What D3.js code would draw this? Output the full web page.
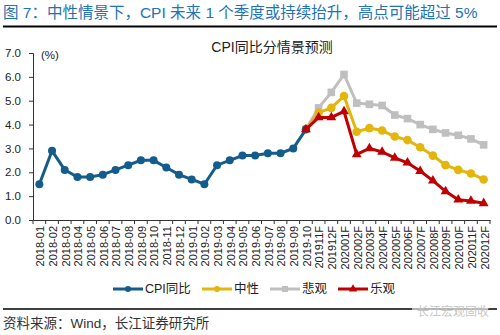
<!DOCTYPE html>
<html><head><meta charset="utf-8">
<script src="https://cdn.jsdelivr.net/npm/d3@7"></script>
<style>
html,body{margin:0;padding:0;background:#fff;}
svg{display:block;font-family:"Liberation Sans","Noto Sans CJK SC",Arial,sans-serif;}
</style></head>
<body>
<script>
const categories = ["2018-01","2018-02","2018-03","2018-04","2018-05","2018-06","2018-07","2018-08","2018-09","2018-10","2018-11","2018-12",
"2019-01","2019-02","2019-03","2019-04","2019-05","2019-06","2019-07","2019-08","2019-09","2019-10",
"201911F","201912F","202001F","202002F","202003F","202004F","202005F","202006F","202007F","202008F","202009F","202010F","202011F","202012F"];
const cpiActual = [1.5,2.9,2.1,1.8,1.8,1.9,2.1,2.3,2.5,2.5,2.2,1.9,1.7,1.5,2.3,2.5,2.7,2.7,2.8,2.8,3.0,3.8];
// forecasts start at 2019-10 (index 21)
const neutral     = [3.8,4.5,4.7,5.2,3.7,3.85,3.75,3.5,3.35,3.05,2.7,2.3,2.1,1.95,1.7];
const pessimistic = [3.8,4.7,5.35,6.1,4.9,4.85,4.8,4.4,4.25,4.0,3.8,3.65,3.55,3.4,3.15];
const optimistic  = [3.8,4.3,4.3,4.55,2.75,3.0,2.85,2.6,2.4,2.05,1.65,1.2,0.85,0.8,0.7];
const forecastStart = 21;
const yTicks = [0,1,2,3,4,5,6,7];
const seriesNames = ["CPI同比","中性","悲观","乐观"];

const W=500,H=335;
const svg=d3.select("body").append("svg").attr("width",W).attr("height",H);

// header
svg.append("text").attr("x",3).attr("y",18).attr("fill","#2272b4").attr("font-size",15.5)
  .text("图 7：中性情景下，CPI 未来 1 个季度或持续抬升，高点可能超过 5%");
svg.append("line").attr("x1",3).attr("x2",497).attr("y1",26.5).attr("y2",26.5).attr("stroke","#000").attr("stroke-width",2);

svg.append("text").attr("x",272).attr("y",52).attr("text-anchor","middle").attr("font-size",14).attr("fill","#222")
  .text("CPI同比分情景预测");

const x=d3.scaleBand().domain(categories).range([33,490]).padding(0);
const y=d3.scaleLinear().domain([0,7]).range([220,53]);
const cx=d=>x(d)+x.bandwidth()/2;

// y axis
const ya=svg.append("g").attr("transform","translate(33,0)")
  .call(d3.axisLeft(y).tickValues(yTicks).tickFormat(d3.format(".1f")).tickSize(4).tickPadding(8));
ya.selectAll("text").attr("font-size",11.5).attr("fill","#222").attr("font-family","Liberation Sans, Arial, sans-serif");
ya.selectAll("line,path").attr("stroke","#333");

svg.append("text").attr("x",41).attr("y",59).attr("font-size",11.5).attr("fill","#222").text("(%)");

// x axis
const xa=svg.append("g").attr("transform","translate(0,220)")
  .call(d3.axisBottom(x).tickSize(0).tickPadding(0));
xa.selectAll("path").attr("stroke","#333");
xa.selectAll("text").attr("font-size",11).attr("fill","#222")
  .attr("transform",d=>`translate(1,6) rotate(-90)`).attr("text-anchor","end").attr("dy","0.35em").attr("x",0).attr("y",0);
// boundary ticks
const bounds=categories.map(c=>x(c)).concat([x(categories[categories.length-1])+x.bandwidth()]);
svg.append("g").selectAll("line").data(bounds).join("line")
  .attr("x1",d=>d).attr("x2",d=>d).attr("y1",220).attr("y2",224).attr("stroke","#333");

const colors={cpi:"#135c8c",neu:"#e2b60c",pes:"#bfbfbf",opt:"#c00000"};

function fc(arr){return arr.map((v,i)=>({c:categories[forecastStart+i],v}));}
const line=d3.line().x(d=>cx(d.c)).y(d=>y(d.v));

const cpiData=cpiActual.map((v,i)=>({c:categories[i],v}));
const pesData=fc(pessimistic), neuData=fc(neutral), optData=fc(optimistic);

const g=svg.append("g");
// pessimistic (gray squares)
g.append("path").datum(pesData).attr("d",line).attr("fill","none").attr("stroke",colors.pes).attr("stroke-width",3);
g.selectAll(".ps").data(pesData).join("rect").attr("x",d=>cx(d.c)-3.8).attr("y",d=>y(d.v)-3.8).attr("width",7.6).attr("height",7.6).attr("fill",colors.pes);
// neutral (yellow circles)
g.append("path").datum(neuData).attr("d",line).attr("fill","none").attr("stroke",colors.neu).attr("stroke-width",3);
g.selectAll(".ns").data(neuData).join("circle").attr("cx",d=>cx(d.c)).attr("cy",d=>y(d.v)).attr("r",4.3).attr("fill",colors.neu);
// CPI actual
g.append("path").datum(cpiData).attr("d",line).attr("fill","none").attr("stroke",colors.cpi).attr("stroke-width",3);
g.selectAll(".cs").data(cpiData).join("circle").attr("cx",d=>cx(d.c)).attr("cy",d=>y(d.v)).attr("r",4).attr("fill",colors.cpi);
// optimistic (red triangles)
g.append("path").datum(optData).attr("d",line).attr("fill","none").attr("stroke",colors.opt).attr("stroke-width",3);
const tri=d3.symbol().type(d3.symbolTriangle).size(42);
g.selectAll(".os").data(optData).join("path").attr("d",tri).attr("transform",d=>`translate(${cx(d.c)},${y(d.v)})`).attr("fill",colors.opt);

// legend
const legItems=[
  {name:seriesNames[0],color:colors.cpi,shape:"circle",x:113},
  {name:seriesNames[1],color:colors.neu,shape:"circle",x:202},
  {name:seriesNames[2],color:colors.pes,shape:"square",x:270},
  {name:seriesNames[3],color:colors.opt,shape:"triangle",x:338}
];
const lg=svg.append("g");
legItems.forEach(it=>{
  const ly=289;
  lg.append("line").attr("x1",it.x).attr("x2",it.x+30).attr("y1",ly).attr("y2",ly).attr("stroke",it.color).attr("stroke-width",3);
  if(it.shape==="circle") lg.append("circle").attr("cx",it.x+15).attr("cy",ly).attr("r",3).attr("fill",it.color);
  else if(it.shape==="square") lg.append("rect").attr("x",it.x+12).attr("y",ly-3).attr("width",6).attr("height",6).attr("fill",it.color);
  else lg.append("path").attr("d",d3.symbol().type(d3.symbolTriangle).size(30)).attr("transform",`translate(${it.x+15},${ly})`).attr("fill",it.color);
  lg.append("text").attr("x",it.x+32).attr("y",ly).attr("dy","0.35em").attr("font-size",12.5).attr("fill","#222").text(it.name);
});

// footer
svg.append("line").attr("x1",3).attr("x2",497).attr("y1",309).attr("y2",309).attr("stroke","#000").attr("stroke-width",1.5);
svg.append("rect").attr("x",412).attr("y",302).attr("width",76).attr("height",15).attr("fill","#fff").attr("opacity",0.6);
svg.append("text").attr("x",417).attr("y",316).attr("font-size",12).attr("fill","#c8c8c8").text("长江宏观固收");
svg.append("text").attr("x",3).attr("y",328).attr("font-size",13.5).attr("fill","#333").text("资料来源：Wind，长江证券研究所");
</script>
</body></html>
